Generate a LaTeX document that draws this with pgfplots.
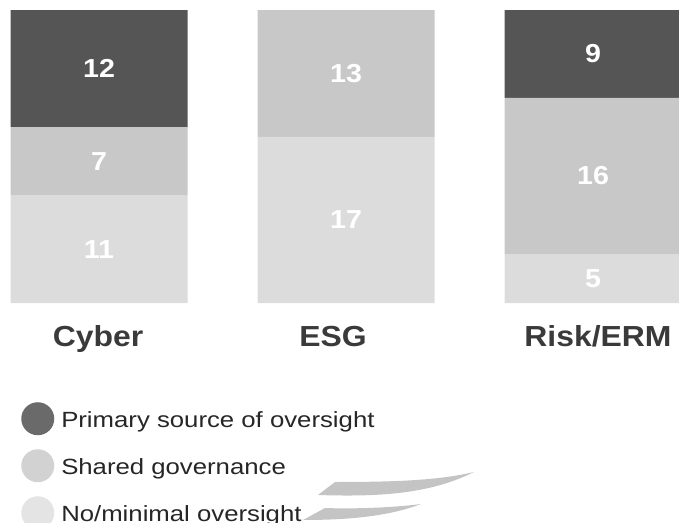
\documentclass[border=0pt]{standalone}
\usepackage{pgfplots}
\pgfplotsset{compat=1.18}
\usepackage{fontspec}
\setmainfont[FakeStretch=1.1]{Liberation Sans}
\newfontfamily\legfont[FakeStretch=1.17]{Liberation Sans}
\definecolor{cdark}{HTML}{555555}
\definecolor{cmid}{HTML}{C8C8C8}
\definecolor{clight}{HTML}{DCDCDC}
\definecolor{ldark}{HTML}{6A6A6A}
\definecolor{lmid}{HTML}{D2D2D2}
\definecolor{llight}{HTML}{E4E4E4}
\definecolor{cattext}{HTML}{3A3A3A}
\definecolor{legtext}{HTML}{262626}
\definecolor{wm}{HTML}{C4C4C4}
\begin{document}
\begin{tikzpicture}[x=1pt,y=1pt]
\useasboundingbox (0,0) rectangle (679,522);
% watermark swooshes
\fill[wm] (318,27) .. controls (380,25) and (430,28) .. (474,50) .. controls (440,42) and (400,40) .. (335,40) -- cycle;
\fill[wm] (303,2) .. controls (350,2) and (390,6) .. (421,18) .. controls (390,14) and (350,13) .. (325,14) -- cycle;
\begin{axis}[
  at={(0pt,219pt)}, anchor=south west,
  scale only axis, width=679pt, height=293pt,
  ybar stacked, bar width=177pt,
  xmin=-0.4008, xmax=2.348, ymin=0, ymax=30,
  axis line style={draw=none}, tick style={draw=none},
  ytick=\empty, xtick={-0.004,0.947,2.02}, xticklabels={Cyber,ESG,Risk/ERM},
  xticklabel style={font=\bfseries\fontsize{29}{29}\selectfont, text=cattext, inner sep=0pt, anchor=north, yshift=-36pt, text height=0.75em},
  clip=false,
  /pgf/number format/assume math mode=true,
  visualization depends on={rawy \as \rawy},
  nodes near coords={\ifdim\rawy pt>0.5pt\pgfmathprintnumber{\rawy}\fi},
  every node near coord/.append style={font=\bfseries\fontsize{26}{26}\selectfont, text=white, anchor=center},
  reverse legend,
  legend style={at={(axis description cs:0.031,-0.338)}, anchor=north west, draw=none, fill=none, inner sep=0pt, font=\legfont\fontsize{22}{22}\selectfont, text=legtext, row sep=14pt, column sep=7pt, nodes={inner sep=0pt}},
  legend cell align=left,
]
\addplot[fill=clight, draw=none, legend image code/.code={\fill[llight] (16.5pt,1.5pt) circle (16.5pt);}] coordinates {(0,11) (1,17) (2,5)};
\addplot[fill=cmid, draw=none, legend image code/.code={\fill[lmid] (16.5pt,1.5pt) circle (16.5pt);}] coordinates {(0,7) (1,13) (2,16)};
\addplot[fill=cdark, draw=none, legend image code/.code={\fill[ldark] (16.5pt,1.5pt) circle (16.5pt);}] coordinates {(0,12) (1,0) (2,9)};
\legend{No/minimal oversight, Shared governance, Primary source of oversight}
\end{axis}
\end{tikzpicture}
\end{document}
